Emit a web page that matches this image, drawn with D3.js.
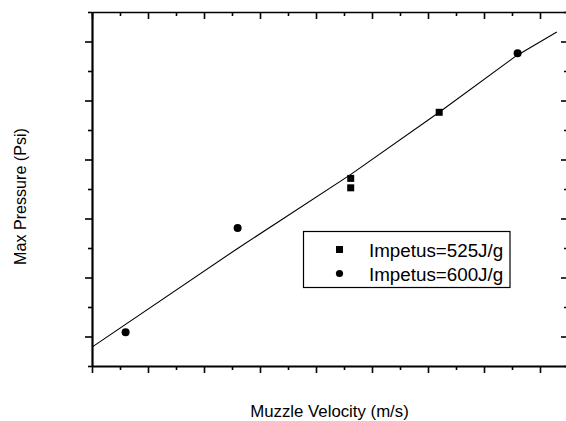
<!DOCTYPE html>
<html>
<head>
<meta charset="utf-8">
<script src="https://cdn.jsdelivr.net/npm/d3@7"></script>
<style>
  html, body { margin: 0; padding: 0; background: #fff; }
  svg { display: block; }
  text { font-family: "Liberation Sans", Arial, sans-serif; fill: #000; }
</style>
</head>
<body>
<script>
// ---- Data (relative units; the original axes carry no tick labels) ----
const xMajorTicks = [0, 1, 2, 3, 4, 5, 6, 7, 8];
const xMinorTicks = [0.5, 1.5, 2.5, 3.5, 4.5, 5.5, 6.5, 7.5, 8.5];
const yMajorTicks = [0, 1, 2, 3, 4, 5];
const yMinorTicks = [-0.5, 0.5, 1.5, 2.5, 3.5, 4.5, 5.5];

const impetus525X = [4.62, 4.62, 6.20];
const impetus525Y = [2.68, 2.52, 3.80];
const impetus600X = [0.60, 2.60, 7.60];
const impetus600Y = [0.07, 1.84, 4.80];

const fitX = [0.00, 2.58, 4.61, 6.20, 7.58, 8.30];
const fitY = [-0.18, 1.48, 2.74, 3.80, 4.76, 5.16];

const legendLabels = ["Impetus=525J/g", "Impetus=600J/g"];
const xTitle = "Muzzle Velocity (m/s)";
const yTitle = "Max Pressure (Psi)";

// ---- Layout ----
const W = 566, H = 421;
const mLeft = 92, mRight = 568, mTop = 12, mBottom = 366;

const svg = d3.select("body").append("svg").attr("width", W).attr("height", H);

const x = d3.scaleLinear().domain([0, 8.5]).range([mLeft, mRight]);
const y = d3.scaleLinear().domain([-0.5, 5.5]).range([mBottom, mTop]);

function styleAxis(g, width) {
  g.selectAll("path.domain").attr("stroke", "#000").attr("stroke-width", width);
  g.selectAll(".tick line").attr("stroke", "#000").attr("stroke-width", 1.6);
  g.selectAll("text").remove();
}

function addAxis(axisFn, scale, ticks, size, transform, domainWidth) {
  const g = svg.append("g").attr("transform", transform)
    .call(axisFn(scale).tickValues(ticks).tickSizeInner(size).tickSizeOuter(0).tickFormat(""));
  if (domainWidth === 0) g.select("path.domain").remove();
  styleAxis(g, domainWidth);
  return g;
}

// Bottom axis (outward ticks)
addAxis(d3.axisBottom, x, xMajorTicks, 7, `translate(0,${mBottom})`, 2);
addAxis(d3.axisBottom, x, xMinorTicks, 4, `translate(0,${mBottom})`, 0);
// Left axis (outward ticks)
addAxis(d3.axisLeft, y, yMajorTicks, 7, `translate(${mLeft},0)`, 2.2);
addAxis(d3.axisLeft, y, yMinorTicks, 4, `translate(${mLeft},0)`, 0);
// Top axis (inward ticks)
addAxis(d3.axisBottom, x, xMajorTicks, 7, `translate(0,${mTop})`, 1.6);
addAxis(d3.axisBottom, x, xMinorTicks, 4, `translate(0,${mTop})`, 0);
// Right axis (inward ticks)
addAxis(d3.axisLeft, y, yMajorTicks, 7, `translate(${mRight},0)`, 2);
addAxis(d3.axisLeft, y, yMinorTicks, 4, `translate(${mRight},0)`, 0);

// Fit line
const fitData = fitX.map((v, i) => [v, fitY[i]]);
svg.append("path")
  .datum(fitData)
  .attr("fill", "none")
  .attr("stroke", "#000")
  .attr("stroke-width", 1.1)
  .attr("d", d3.line().x(d => x(d[0])).y(d => y(d[1])));

// Points
const sq = 7;
svg.append("g").selectAll("rect")
  .data(impetus525X.map((v, i) => [v, impetus525Y[i]]))
  .join("rect")
  .attr("x", d => x(d[0]) - sq / 2)
  .attr("y", d => y(d[1]) - sq / 2)
  .attr("width", sq).attr("height", sq)
  .attr("fill", "#000");

svg.append("g").selectAll("circle")
  .data(impetus600X.map((v, i) => [v, impetus600Y[i]]))
  .join("circle")
  .attr("cx", d => x(d[0]))
  .attr("cy", d => y(d[1]))
  .attr("r", 4)
  .attr("fill", "#000");

// Legend
const lg = svg.append("g");
lg.append("rect")
  .attr("x", 303.5).attr("y", 231.5).attr("width", 206.5).attr("height", 56)
  .attr("fill", "#fff").attr("stroke", "#000").attr("stroke-width", 1.2);
lg.append("rect").attr("x", 339.5 - 3.5).attr("y", 249.5 - 3.5).attr("width", 7).attr("height", 7).attr("fill", "#000");
lg.append("circle").attr("cx", 339.5).attr("cy", 273.5).attr("r", 3.6).attr("fill", "#000");
legendLabels.forEach((t, i) => {
  lg.append("text").attr("x", 369).attr("y", 256.7 + i * 24.3)
    .attr("font-size", 18.8).text(t);
});

// Axis titles
svg.append("text")
  .attr("x", 329.5).attr("y", 417)
  .attr("text-anchor", "middle")
  .attr("font-size", 16.8)
  .text(xTitle);

svg.append("text")
  .attr("transform", "translate(25.5,196.5) rotate(-90)")
  .attr("text-anchor", "middle")
  .attr("font-size", 16.1)
  .text(yTitle);
</script>
</body>
</html>
